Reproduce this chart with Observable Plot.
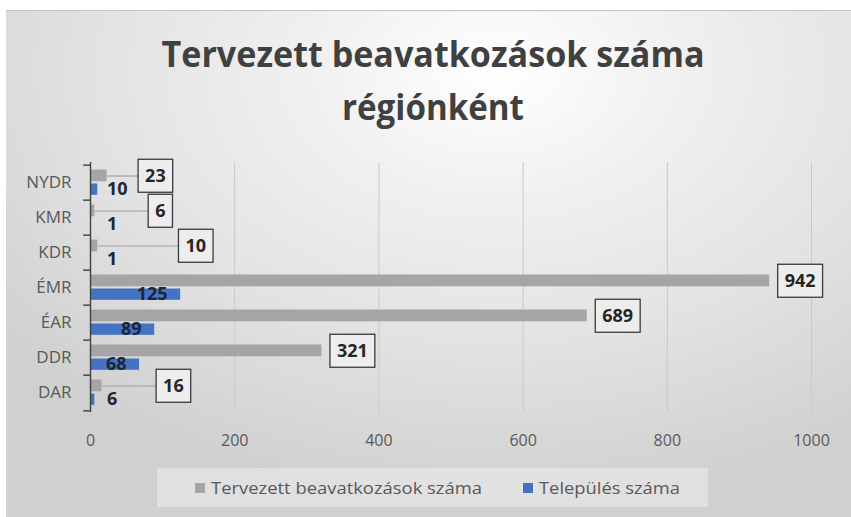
<!DOCTYPE html>
<html><head><meta charset="utf-8">
<script src="https://cdn.jsdelivr.net/npm/d3@7"></script>
<script src="https://cdn.jsdelivr.net/npm/@observablehq/plot@0.6"></script>
<style>
html,body{margin:0;padding:0;background:#fff;}
#wrap{position:relative;width:851px;height:517px;overflow:hidden;font-family:"Open Sans",sans-serif;}
#bg{position:absolute;left:6px;top:10px;width:845px;height:507px;border-top:1px solid #c4c4c4;
  background:radial-gradient(ellipse 75% 85% at 58% 12%, #ffffff 0%, #f0f0f0 30%, #e3e3e3 62%, #d0d0d0 100%);}
#chart{position:absolute;left:0;top:0;}
#overlay{position:absolute;left:0;top:0;pointer-events:none;}
</style></head><body>
<div id="wrap"><div id="bg"></div><div id="chart"></div><svg id="overlay" width="851" height="517"></svg></div>
<script>
// ---- data ----
const regions = ["NYDR", "KMR", "KDR", "ÉMR", "ÉAR", "DDR", "DAR"];
const planned = [23, 6, 10, 942, 689, 321, 16];
const settlements = [10, 1, 1, 125, 89, 68, 6];
const seriesNames = ["Tervezett beavatkozások száma", "Település száma"];
const seriesColors = ["#a5a5a5", "#4472c4"];
const xTicks = [0, 200, 400, 600, 800, 1000];
const titleLines = ["Tervezett beavatkozások száma", "régiónként"];
// callout placement (x in data units) for labels moved away from short bars
const calloutAt = {NYDR: 66, KMR: 80, KDR: 122, DAR: 91};

const rows = regions.map((r, i) => ({region: r, planned: planned[i], settlements: settlements[i]}));
const callRows = rows.filter(d => calloutAt[d.region] != null);
const directRows = rows.filter(d => calloutAt[d.region] == null);
const bigBlue = rows.filter(d => d.settlements >= 50);
const smallBlue = rows.filter(d => d.settlements < 50);

const W = 851, H = 460, mt = 162, mb = 48, ml = 90, mr = 40;
const bandH = (H - mt - mb) / regions.length;
const boxStyle = {className: "boxlabel", ariaDescription: "boxlabel"};

const plot = Plot.plot({
  width: W, height: H,
  marginTop: mt, marginBottom: mb, marginLeft: ml, marginRight: mr,
  style: {background: "transparent", color: "#595959", fontFamily: "'Open Sans', sans-serif", overflow: "visible"},
  x: {domain: [0, 1000], label: null},
  y: {domain: regions, padding: 0, label: null},
  marks: [
    Plot.gridX(xTicks.filter(d => d > 0), {stroke: "#c9c9c9", strokeOpacity: 1}),
    Plot.barX(rows, {y: "region", x: "planned", fill: seriesColors[0], insetTop: 4.5, insetBottom: 18.7}),
    Plot.barX(rows, {y: "region", x: "settlements", fill: seriesColors[1], insetTop: 18.5, insetBottom: 5.2}),
    Plot.ruleX([0], {stroke: "#404040", strokeWidth: 1.4}),
    Plot.ruleY(regions, {y: d => d, x1: -9.5, x2: 0, dy: -bandH / 2, stroke: "#404040", strokeWidth: 1.4}),
    Plot.ruleY(regions.slice(-1), {y: d => d, x1: -9.5, x2: 0, dy: bandH / 2, stroke: "#404040", strokeWidth: 1.4}),
    Plot.link(callRows, {x1: "planned", x2: d => calloutAt[d.region], y1: "region", y2: "region", dy: -7, stroke: "#a0a0a0", strokeWidth: 1.2}),
    Plot.text(callRows, {x: d => calloutAt[d.region], y: "region", text: d => String(d.planned), textAnchor: "start", dx: 7, dy: -7,
      fontSize: 18, fontWeight: "bold", fill: "#262626", ...boxStyle}),
    Plot.text(directRows, {x: "planned", y: "region", text: d => String(d.planned), textAnchor: "start", dx: 15, dy: -7,
      fontSize: 18, fontWeight: "bold", fill: "#262626", ...boxStyle}),
    Plot.text(bigBlue, {x: "settlements", y: "region", text: d => String(d.settlements), textAnchor: "end", dx: -13, dy: 6.7,
      fontSize: 18, fontWeight: "bold", fill: "#1f2633"}),
    Plot.text(smallBlue, {frameAnchor: "left", y: "region", text: d => String(d.settlements), textAnchor: "start", dx: 16.5, dy: 6.7,
      fontSize: 18, fontWeight: "bold", fill: "#1f2633"}),
    Plot.axisY({tickSize: 0, tickPadding: 19, fontSize: 17, fill: "#595959"}),
    Plot.axisX({ticks: xTicks, tickFormat: d => String(d), tickSize: 0, tickPadding: 22, fontSize: 16, fill: "#595959"})
  ]
});
document.getElementById("chart").append(plot);

// boxes around the planned-value labels
const NS = "http://www.w3.org/2000/svg";
const boxTexts = new Set([
  ...plot.querySelectorAll('g.boxlabel text'),
  ...plot.querySelectorAll('g[aria-description="boxlabel"] text')
]);
boxTexts.forEach(t => {
  const b = t.getBBox();
  const r = document.createElementNS(NS, "rect");
  const cy = b.y + b.height / 2 + 1;
  r.setAttribute("x", b.x - 7);
  r.setAttribute("y", cy - 16.5);
  r.setAttribute("width", b.width + 14);
  r.setAttribute("height", 33);
  r.setAttribute("fill", "#ededed");
  r.setAttribute("stroke", "#3a3a3a");
  r.setAttribute("stroke-width", 1.3);
  if (t.getAttribute("transform")) r.setAttribute("transform", t.getAttribute("transform"));
  t.parentNode.insertBefore(r, t);
});

// title and legend overlay
const ov = d3.select("#overlay");
const titleY = [67, 120], titleLen = [543, 182];
titleLines.forEach((s, i) => {
  ov.append("text").attr("x", 433).attr("y", titleY[i]).attr("text-anchor", "middle")
    .attr("font-family", "'Open Sans', sans-serif").attr("font-weight", "bold").attr("font-size", 36)
    .attr("fill", "#404040").attr("textLength", titleLen[i]).attr("lengthAdjust", "spacingAndGlyphs").text(s);
});
ov.append("rect").attr("x", 157).attr("y", 468).attr("width", 551).attr("height", 39)
  .attr("fill", "#ffffff").attr("fill-opacity", 0.35);
const legX = [195, 523], legLen = [271, 141];
seriesNames.forEach((s, i) => {
  ov.append("rect").attr("x", legX[i]).attr("y", 483).attr("width", 10).attr("height", 10).attr("fill", seriesColors[i]);
  ov.append("text").attr("x", legX[i] + 16).attr("y", 494)
    .attr("font-family", "'Open Sans', sans-serif").attr("font-size", 17).attr("fill", "#595959")
    .attr("textLength", legLen[i]).attr("lengthAdjust", "spacingAndGlyphs").text(s);
});
</script>
</body></html>
